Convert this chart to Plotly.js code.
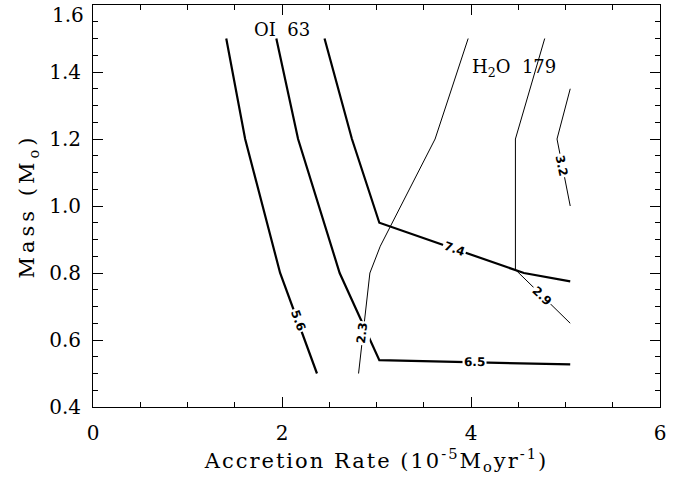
<!DOCTYPE html>
<html>
<head>
<meta charset="utf-8">
<script src="https://cdn.plot.ly/plotly-3.0.1.min.js"></script>
<style>
  html, body { margin: 0; padding: 0; background: #fff; }
  #chart { width: 673px; height: 480px; }
  #chart .xtitle { letter-spacing: 2px; }
  #chart .ytitle { letter-spacing: 4px; }
</style>
</head>
<body>
<div id="chart"></div>
<script>
// OI 63 micron contours (thick lines): accretion rate vs. stellar mass
const oi56X = [1.41, 1.61, 1.98, 2.37];
const oi56Y = [1.50, 1.20, 0.80, 0.50];
const oi65X = [1.94, 2.17, 2.61, 3.03, 5.05];
const oi65Y = [1.50, 1.20, 0.80, 0.54, 0.527];
const oi74X = [2.45, 2.74, 3.03, 4.46, 4.56, 5.05];
const oi74Y = [1.50, 1.20, 0.95, 0.81, 0.80, 0.775];

// H2O 179 micron contours (thin lines)
const h23X = [3.97, 3.62, 3.04, 2.93, 2.81];
const h23Y = [1.50, 1.20, 0.88, 0.80, 0.50];
const h29X = [4.78, 4.47, 4.47, 5.05];
const h29Y = [1.50, 1.20, 0.81, 0.65];
const h32X = [5.05, 4.91, 5.05];
const h32Y = [1.35, 1.20, 1.00];

// contour level labels, placed along their lines
const levelText  = ['5.6', '6.5', '7.4', '2.3', '2.9', '3.2'];
const levelX     = [2.17, 4.04, 3.83, 2.85, 4.75, 4.96];
const levelY     = [0.66, 0.533, 0.873, 0.62, 0.73, 1.12];
const levelAngle = [70, 0.5, 19, -83, 44, 78];

const xTicks = [0, 2, 4, 6];
const yTicks = [0.4, 0.6, 0.8, 1.0, 1.2, 1.4, 1.6];
const yTopLabel = yTicks[yTicks.length - 1];

const mainFont = 'DejaVu Serif, Liberation Serif, serif';

function contour(x, y, w) {
  return { x: x, y: y, type: 'scatter', mode: 'lines',
           line: { color: '#000', width: w, shape: 'linear' },
           hoverinfo: 'skip', showlegend: false };
}

const traces = [
  contour(oi56X, oi56Y, 2.2),
  contour(oi65X, oi65Y, 2.2),
  contour(oi74X, oi74Y, 2.2),
  contour(h23X, h23Y, 1),
  contour(h29X, h29Y, 1),
  contour(h32X, h32Y, 1)
];

const annotations = levelText.map((t, i) => ({
  x: levelX[i], y: levelY[i], xref: 'x', yref: 'y',
  text: '<b>' + t + '</b>', showarrow: false, textangle: levelAngle[i],
  font: { family: 'DejaVu Sans, sans-serif', size: 12, color: '#000' },
  bgcolor: '#fff', borderpad: 1
}));

annotations.push(
  { x: 2.0, y: 1.528, xref: 'x', yref: 'y', text: 'OI  63', showarrow: false,
    font: { family: mainFont, size: 18, color: '#000' } },
  { x: 4.46, y: 1.412, xref: 'x', yref: 'y', text: 'H<sub>2</sub>O  179', showarrow: false,
    font: { family: mainFont, size: 18, color: '#000' } },
  // top y tick label, nudged down so it stays inside the page
  { x: 0, xref: 'paper', xanchor: 'right', xshift: -7,
    y: yTopLabel, yref: 'y', yanchor: 'middle', yshift: -10,
    text: yTopLabel.toFixed(1), showarrow: false,
    font: { family: mainFont, size: 20, color: '#000' } }
);

const axisCommon = {
  showline: true, linecolor: '#000', linewidth: 1, mirror: 'allticks',
  ticks: 'inside', ticklen: 10, tickwidth: 1, tickcolor: '#000',
  showgrid: false, zeroline: false,
  tickfont: { family: mainFont, size: 20, color: '#000' }
};

const layout = {
  width: 673, height: 480,
  margin: { l: 93, r: 13, t: 5, b: 73 },
  paper_bgcolor: '#fff', plot_bgcolor: '#fff',
  xaxis: Object.assign({}, axisCommon, {
    range: [0, 6], tickvals: xTicks, ticktext: xTicks.map(String),
    minor: { dtick: 0.5, ticks: 'inside', ticklen: 5, tickcolor: '#000', showgrid: false },
    ticklabelstandoff: 8,
    title: { text: 'Accretion Rate (10<sup>-5</sup>M<sub>o</sub>yr<sup>-1</sup>)',
             font: { family: mainFont, size: 21, color: '#000' }, standoff: 4 }
  }),
  yaxis: Object.assign({}, axisCommon, {
    range: [0.4, 1.6], tickvals: yTicks,
    ticktext: yTicks.map(v => v === yTopLabel ? '' : v.toFixed(1)),
    minor: { dtick: 0.05, ticks: 'inside', ticklen: 5, tickcolor: '#000', showgrid: false },
    ticklabelstandoff: 7,
    title: { text: 'Mass (M<sub>o</sub>)',
             font: { family: mainFont, size: 21, color: '#000' }, standoff: 8 }
  }),
  annotations: annotations
};

Plotly.newPlot('chart', traces, layout, { displayModeBar: false, staticPlot: true });
</script>
</body>
</html>
